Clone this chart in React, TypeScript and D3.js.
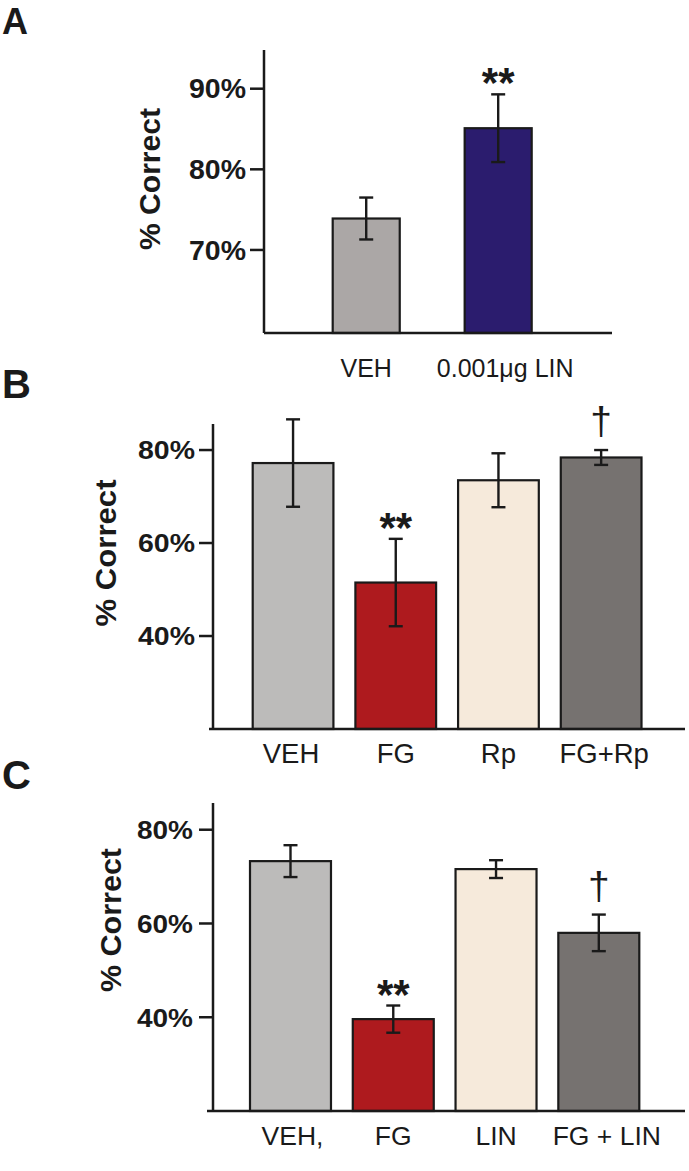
import React from "react";
import * as d3 from "d3";

// ---- Data ----
const catsA = ["VEH", "0.001μg LIN"];
const meanA = [73.9, 85.1];
const semA = [2.6, 4.2];
const sigA = ["", "**"];
const colorsA = ["#aba7a6", "#2b1c6e"];
const ticksA = [70, 80, 90];

const catsB = ["VEH", "FG", "Rp", "FG+Rp"];
const meanB = [77.2, 51.5, 73.5, 78.4];
const semB = [9.4, 9.4, 5.8, 1.6];
const sigB = ["", "**", "", "†"];
const colorsB = ["#bcbbba", "#ae1a1e", "#f6eadb", "#767270"];
const ticksB = [40, 60, 80];

const catsC = ["VEH,", "FG", "LIN", "FG + LIN"];
const meanC = [73.3, 39.6, 71.6, 58.0];
const semC = [3.4, 2.9, 1.9, 3.9];
const sigC = ["", "**", "", "†"];
const colorsC = ["#bcbbba", "#ae1a1e", "#f6eadb", "#767270"];
const ticksC = [40, 60, 80];

const FONT = "'Liberation Sans', Arial, Helvetica, sans-serif";
const INK = "#1a1a1a";

type Layout = {
  label: string;
  labelY: number;
  labelFont: number;
  axisX: number;
  axisTop: number;
  axisBottom: number;
  xLineStart: number;
  xLineEnd: number;
  domain: [number, number];
  barRange: [number, number];
  padInner: number;
  tickLabelRight: number;
  tickFont: number;
  tickLen: number;
  tickLabelLen: number;
  ylabX: number;
  ylabY: number;
  ylabFont: number;
  ylabLen: number;
  xlabBaseline: number;
  xlabFont: number;
  xlabDx: number[];
};

function Panel({ cats, means, sems, sigs, colors, ticks, L }: any) {
  const lay = L as Layout;
  const y = d3.scaleLinear().domain(lay.domain).range([lay.axisBottom, lay.axisTop]);
  const x = d3.scaleBand<string>().domain(cats).range(lay.barRange).paddingInner(lay.padInner).paddingOuter(0);
  const bw = x.bandwidth();
  const capW = 14;
  return (
    <g>
      <text x={2} y={lay.labelY} fontFamily={FONT} fontWeight="bold" fontSize={lay.labelFont} fill={INK}>
        {lay.label}
      </text>
      {/* y label */}
      <text
        transform={`translate(${lay.ylabX},${lay.ylabY}) rotate(-90)`}
        textAnchor="middle"
        fontFamily={FONT}
        fontWeight="bold"
        fontSize={lay.ylabFont}
        textLength={lay.ylabLen}
        lengthAdjust="spacingAndGlyphs"
        fill={INK}
      >
        % Correct
      </text>
      {/* bars */}
      {cats.map((c: string, i: number) => (
        <rect
          key={c}
          x={x(c)}
          y={y(means[i])}
          width={bw}
          height={y(lay.domain[0]) - y(means[i])}
          fill={colors[i]}
          stroke={INK}
          strokeWidth={2.2}
        />
      ))}
      {/* error bars */}
      {cats.map((c: string, i: number) => {
        const cx = (x(c) as number) + bw / 2;
        const y1 = y(means[i] + sems[i]);
        const y0 = y(means[i] - sems[i]);
        return (
          <g key={c + "e"} stroke={INK} strokeWidth={2.4}>
            <line x1={cx} x2={cx} y1={y1} y2={y0} />
            <line x1={cx - capW / 2} x2={cx + capW / 2} y1={y1} y2={y1} />
            <line x1={cx - capW / 2} x2={cx + capW / 2} y1={y0} y2={y0} />
          </g>
        );
      })}
      {/* significance marks */}
      {cats.map((c: string, i: number) => {
        const s = sigs[i];
        if (!s) return null;
        const cx = (x(c) as number) + bw / 2;
        const top = y(means[i] + sems[i]);
        if (s === "**") {
          return (
            <text key={c + "s"} x={cx} y={top + 3} textAnchor="middle" fontFamily={FONT} fontWeight="bold" fontSize={42} fill={INK}>
              **
            </text>
          );
        }
        return (
          <text key={c + "s"} x={cx} y={top - 16} textAnchor="middle" fontFamily={FONT} fontSize={39} fill={INK}>
            †
          </text>
        );
      })}
      {/* axes */}
      <line x1={lay.axisX} x2={lay.axisX} y1={lay.axisTop} y2={lay.axisBottom} stroke={INK} strokeWidth={2.5} />
      <line x1={lay.xLineStart} x2={lay.xLineEnd} y1={lay.axisBottom} y2={lay.axisBottom} stroke={INK} strokeWidth={2.5} />
      {ticks.map((t: number) => (
        <g key={t}>
          <line x1={lay.axisX - lay.tickLen} x2={lay.axisX} y1={y(t)} y2={y(t)} stroke={INK} strokeWidth={2.5} />
          <text
            x={lay.tickLabelRight}
            y={y(t) + lay.tickFont * 0.36}
            textAnchor="end"
            fontFamily={FONT}
            fontWeight="bold"
            fontSize={lay.tickFont}
            textLength={lay.tickLabelLen}
            lengthAdjust="spacingAndGlyphs"
            fill={INK}
          >
            {t + "%"}
          </text>
        </g>
      ))}
      {cats.map((c: string, i: number) => (
        <text
          key={c + "l"}
          x={(x(c) as number) + bw / 2 + lay.xlabDx[i]}
          y={lay.xlabBaseline}
          textAnchor="middle"
          fontFamily={FONT}
          fontSize={lay.xlabFont}
          fill={INK}
        >
          {c}
        </text>
      ))}
    </g>
  );
}

const layoutA: Layout = {
  label: "A", labelY: 34, labelFont: 36, axisX: 264, axisTop: 50, axisBottom: 333, xLineStart: 264, xLineEnd: 612,
  domain: [59.7, 94.8], barRange: [332.7, 531.7], padInner: 0.492, tickLabelRight: 246, tickFont: 27, tickLen: 14, tickLabelLen: 57,
  ylabX: 160, ylabY: 179, ylabFont: 30, ylabLen: 142, xlabBaseline: 377, xlabFont: 25, xlabDx: [0, 7],
};
const layoutB: Layout = {
  label: "B", labelY: 398, labelFont: 40, axisX: 213, axisTop: 424, axisBottom: 729, xLineStart: 209, xLineEnd: 685,
  domain: [20, 85.6], barRange: [252.7, 641.5], padInner: 0.214, tickLabelRight: 195, tickFont: 26, tickLen: 14, tickLabelLen: 57,
  ylabX: 116, ylabY: 553, ylabFont: 30, ylabLen: 147, xlabBaseline: 763, xlabFont: 27.5, xlabDx: [-2, 0, 0, 3],
};
const layoutC: Layout = {
  label: "C", labelY: 789, labelFont: 40, axisX: 213, axisTop: 803, axisBottom: 1111, xLineStart: 207, xLineEnd: 685,
  domain: [20, 85.7], barRange: [250, 639.3], padInner: 0.212, tickLabelRight: 193, tickFont: 26, tickLen: 14, tickLabelLen: 56,
  ylabX: 121, ylabY: 920, ylabFont: 30, ylabLen: 144, xlabBaseline: 1145, xlabFont: 26.5, xlabDx: [2, 0, 0, 8],
};

export default function App() {
  return (
    <svg
      width={689}
      height={1171}
      viewBox="0 0 689 1171"
      style={{ position: "absolute", left: 0, top: 0, background: "#fff" }}
    >
      <rect x={0} y={0} width={689} height={1171} fill="#fff" />
      <Panel cats={catsA} means={meanA} sems={semA} sigs={sigA} colors={colorsA} ticks={ticksA} L={layoutA} />
      <Panel cats={catsB} means={meanB} sems={semB} sigs={sigB} colors={colorsB} ticks={ticksB} L={layoutB} />
      <Panel cats={catsC} means={meanC} sems={semC} sigs={sigC} colors={colorsC} ticks={ticksC} L={layoutC} />
    </svg>
  );
}
